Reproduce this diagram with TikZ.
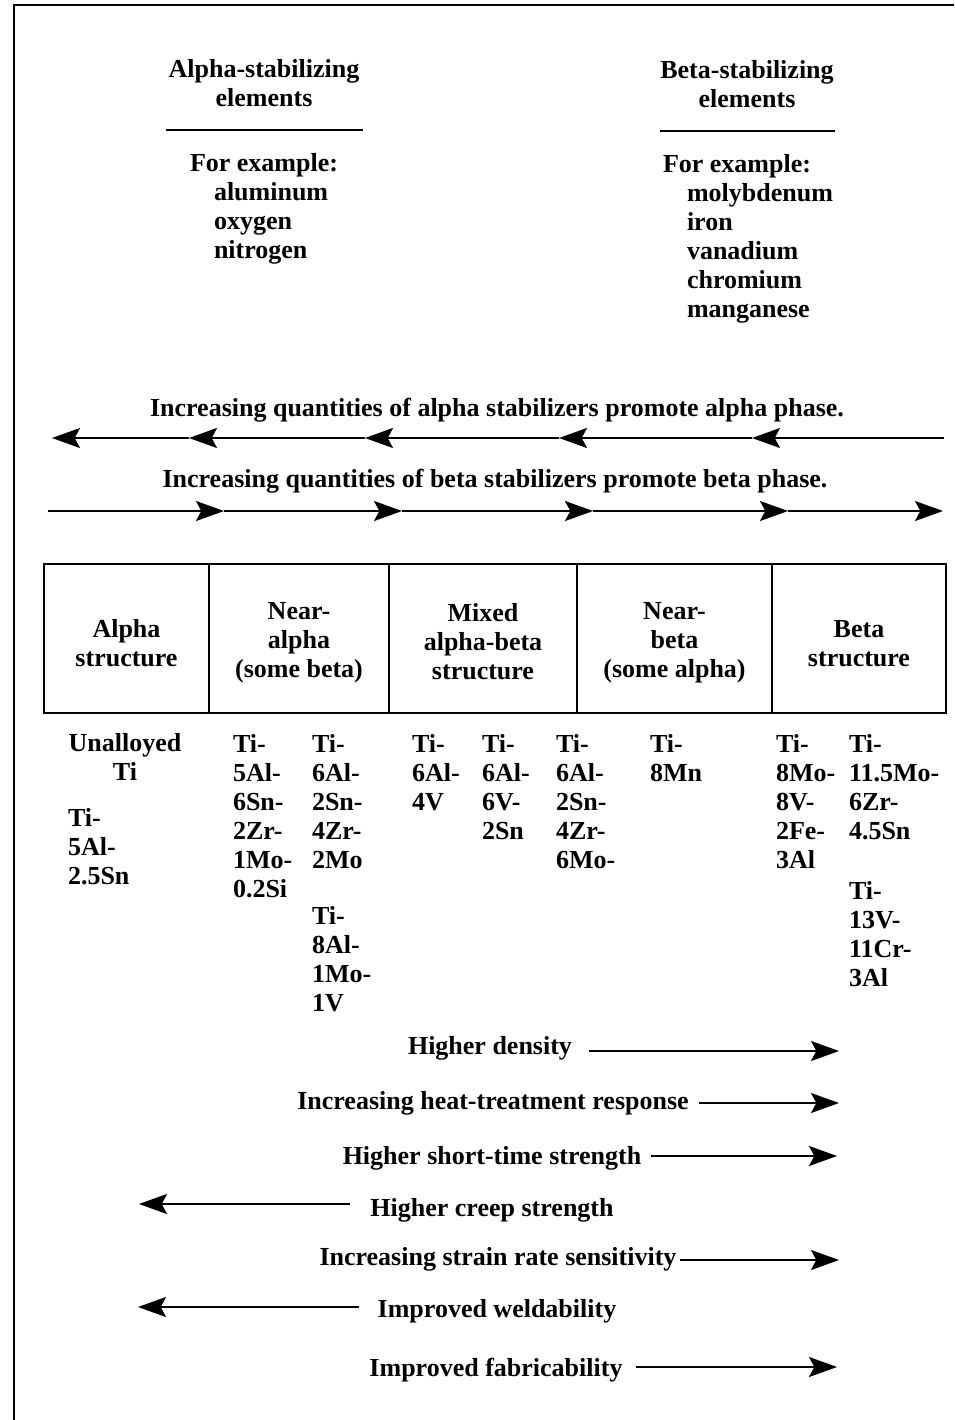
\documentclass[tikz,border=0pt]{standalone}
\usepackage{fontspec}
\setmainfont{Liberation Serif}
\usetikzlibrary{arrows.meta, positioning}

\begin{document}
\begin{tikzpicture}[x=0.75pt, y=-0.75pt, font=\fontsize{19.5}{21.75}\selectfont\bfseries]
    \tikzstyle{elemhead} = [inner sep=0pt, outer sep=0pt, anchor=north, align=center]
    \tikzstyle{elemlist} = [inner sep=0pt, outer sep=0pt, anchor=north west, align=left]
    \tikzstyle{alloy} = [inner sep=0pt, outer sep=0pt, anchor=north west, align=left]
    \tikzstyle{cell} = [rectangle, draw, line width=1.5pt, inner sep=0pt, outer sep=0pt,
                        minimum height=111.75pt]
    \tikzstyle{celltext} = [inner sep=0pt, align=center, yshift=-3.5pt]
    \tikzstyle{prop} = [inner sep=0pt, outer sep=0pt]
    \tikzstyle{trend} = [-{Stealth[length=21pt, width=15pt, inset=4pt]}, line width=1.6pt]
    \tikzstyle{headrule} = [line width=1.5pt]

    \useasboundingbox (0,0) rectangle (954,1420);
    \draw [line width=2pt] (14,1420) -- (14,5) -- (954,5);

    % stabilizing elements
    \node (alphahead) [elemhead] at (264,59) {Alpha-stabilizing\\elements};
    \draw [headrule] (166,130) -- (363,130);
    \node (alphaex) [elemlist] at (190,153)
        {For example:\\\hspace*{18pt}aluminum\\\hspace*{18pt}oxygen\\\hspace*{18pt}nitrogen};
    \node (betahead) [elemhead] at (747,60) {Beta-stabilizing\\elements};
    \draw [headrule] (660,131) -- (835,131);
    \node (betaex) [elemlist] at (663,154)
        {For example:\\\hspace*{18pt}molybdenum\\\hspace*{18pt}iron\\\hspace*{18pt}vanadium\\\hspace*{18pt}chromium\\\hspace*{18pt}manganese};

    % phase arrows
    \node (alphaph) [elemhead] at (497,398) {Increasing quantities of alpha stabilizers promote alpha phase.};
    \foreach \a/\b in {944/752, 752/559, 559/365, 365/189, 189/52}
        \draw [trend] (\a,438) -- (\b,438);
    \node (betaph) [elemhead] at (495,469) {Increasing quantities of beta stabilizers promote beta phase.};
    \foreach \a/\b in {48/224, 224/402, 402/593, 593/788, 788/943}
        \draw [trend] (\a,511) -- (\b,511);

    % structure classes
    \node (alphast) [cell, minimum width=123.75pt] at (126.5,638.5) {};
    \node (nearal)  [cell, minimum width=135pt, right=0pt of alphast] {};
    \node (mixed)   [cell, minimum width=141pt, right=0pt of nearal] {};
    \node (nearbe)  [cell, minimum width=146.25pt, right=0pt of mixed] {};
    \node (betast)  [cell, minimum width=130.5pt, right=0pt of nearbe] {};
    \node (alphastl) [celltext] at (alphast) {Alpha\\structure};
    \node (nearall)  [celltext] at (nearal) {Near-\\alpha\\(some beta)};
    \node (mixedl)   [celltext, yshift=1.5pt] at (mixed) {Mixed\\alpha-beta\\structure};
    \node (nearbel)  [celltext] at (nearbe) {Near-\\beta\\(some alpha)};
    \node (betastl)  [celltext] at (betast) {Beta\\structure};

    % alloys
    \node (unalloy) [elemhead] at (125,733) {Unalloyed\\Ti};
    \node (ti5al)   [alloy] at (68,808)  {Ti-\\5Al-\\2.5Sn};
    \node (ti5al6)  [alloy] at (233,734) {Ti-\\5Al-\\6Sn-\\2Zr-\\1Mo-\\0.2Si};
    \node (ti6al2)  [alloy] at (312,734) {Ti-\\6Al-\\2Sn-\\4Zr-\\2Mo};
    \node (ti8al)   [alloy] at (312,906) {Ti-\\8Al-\\1Mo-\\1V};
    \node (ti6al4)  [alloy] at (412,734) {Ti-\\6Al-\\4V};
    \node (ti6al6)  [alloy] at (482,734) {Ti-\\6Al-\\6V-\\2Sn};
    \node (ti6al6m) [alloy] at (556,734) {Ti-\\6Al-\\2Sn-\\4Zr-\\6Mo-};
    \node (ti8mn)   [alloy] at (650,734) {Ti-\\8Mn};
    \node (ti8mo)   [alloy] at (776,734) {Ti-\\8Mo-\\8V-\\2Fe-\\3Al};
    \node (ti11mo)  [alloy] at (849,734) {Ti-\\11.5Mo-\\6Zr-\\4.5Sn};
    \node (ti13v)   [alloy] at (849,881) {Ti-\\13V-\\11Cr-\\3Al};

    % property trends
    \node (dens)   [prop] at (490,1048) {Higher density};
    \node (heat)   [prop] at (493,1103) {Increasing heat-treatment response};
    \node (short)  [prop] at (492,1158) {Higher short-time strength};
    \node (creep)  [prop] at (492,1210) {Higher creep strength};
    \node (strain) [prop] at (498,1259) {Increasing strain rate sensitivity};
    \node (weld)   [prop] at (497,1311) {Improved weldability};
    \node (fab)    [prop] at (496,1370) {Improved fabricability};

    \coordinate (densend)   at (839,1051);
    \coordinate (heatend)   at (839,1103);
    \coordinate (shortend)  at (837,1156);
    \coordinate (creepend)  at (139,1204);
    \coordinate (strainend) at (839,1260);
    \coordinate (weldend)   at (138,1307);
    \coordinate (fabend)    at (837,1367);

    \draw [trend] (dens.east |- densend) ++(17,0) -- (densend);
    \draw [trend] (heat.east |- heatend) ++(10,0) -- (heatend);
    \draw [trend] (short.east |- shortend) ++(10,0) -- (shortend);
    \draw [trend] (creep.west |- creepend) ++(-20,0) -- (creepend);
    \draw [trend] (strain.east |- strainend) ++(3,0) -- (strainend);
    \draw [trend] (weld.west |- weldend) ++(-19,0) -- (weldend);
    \draw [trend] (fab.east |- fabend) ++(13,0) -- (fabend);
\end{tikzpicture}
\end{document}
